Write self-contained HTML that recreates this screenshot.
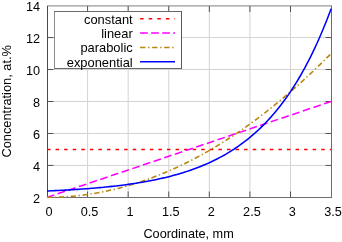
<!DOCTYPE html><html><head><meta charset="utf-8"><title>plot</title><style>html,body{margin:0;padding:0;background:#fff}svg{display:block}text{font-family:"Liberation Sans",sans-serif;font-size:12.7px;fill:#000}</style></head><body>
<svg width="342" height="242" viewBox="0 0 342 242">
<rect width="342" height="242" fill="#fff"/>
<path d="M87.59 6.0 V197.5 M128.17 6.0 V197.5 M168.76 6.0 V197.5 M209.34 6.0 V197.5 M249.93 6.0 V197.5 M290.51 6.0 V197.5 M47.5 165.43 H331.5 M47.5 133.47 H331.5 M47.5 101.50 H331.5 M47.5 69.53 H331.5 M47.5 37.57 H331.5" stroke="#d3d3d3" stroke-width="1" fill="none"/>
<path d="M87.59 197.5 v-6 M87.59 6.0 v6 M128.17 197.5 v-6 M128.17 6.0 v6 M168.76 197.5 v-6 M168.76 6.0 v6 M209.34 197.5 v-6 M209.34 6.0 v6 M249.93 197.5 v-6 M249.93 6.0 v6 M290.51 197.5 v-6 M290.51 6.0 v6 M47.5 165.43 h6 M331.5 165.43 h-6 M47.5 133.47 h6 M331.5 133.47 h-6 M47.5 101.50 h6 M331.5 101.50 h-6 M47.5 69.53 h6 M331.5 69.53 h-6 M47.5 37.57 h6 M331.5 37.57 h-6" stroke="#000" stroke-opacity="0.62" stroke-width="1" fill="none"/>
<path d="M47.5 6.0 V197.5" stroke="#4a4a4a" fill="none"/>
<path d="M47.0 197.5 H332.0 M331.5 197.5 V6.0" stroke="#6c6c6c" fill="none"/>
<path d="M47.0 5.9 H332.0" stroke="#606060" stroke-width="0.8" fill="none"/>
<clipPath id="c"><rect x="47" y="5.3" width="285" height="192.7"/></clipPath>
<g fill="none" stroke-width="1.55" clip-path="url(#c)">
<polyline points="47.00,149.45 189.05,149.45 331.10,149.45" stroke="#ff0000" stroke-width="1.5" stroke-dasharray="3.5 5.07"/>
<polyline points="47.00,197.40 189.05,149.45 331.10,101.50" stroke="#ff00ff" stroke-dasharray="7.7 3.55"/>
<polyline points="47.00,197.40 49.03,197.39 51.06,197.37 53.09,197.33 55.12,197.28 57.15,197.22 59.18,197.14 61.20,197.04 63.23,196.93 65.26,196.81 67.29,196.67 69.32,196.51 71.35,196.34 73.38,196.16 75.41,195.96 77.44,195.75 79.47,195.52 81.50,195.28 83.53,195.02 85.56,194.75 87.59,194.46 89.62,194.16 91.64,193.85 93.67,193.52 95.70,193.17 97.73,192.81 99.76,192.44 101.79,192.05 103.82,191.65 105.85,191.23 107.88,190.79 109.91,190.35 111.94,189.88 113.97,189.41 116.00,188.92 118.03,188.41 120.05,187.89 122.08,187.35 124.11,186.80 126.14,186.24 128.17,185.66 130.20,185.06 132.23,184.45 134.26,183.83 136.29,183.19 138.32,182.54 140.35,181.87 142.38,181.19 144.41,180.49 146.44,179.78 148.46,179.05 150.49,178.31 152.52,177.55 154.55,176.78 156.58,176.00 158.61,175.20 160.64,174.38 162.67,173.55 164.70,172.71 166.73,171.85 168.76,170.98 170.79,170.09 172.82,169.19 174.85,168.27 176.87,167.34 178.90,166.39 180.93,165.43 182.96,164.45 184.99,163.46 187.02,162.46 189.05,161.44 191.08,160.40 193.11,159.35 195.14,158.29 197.17,157.21 199.20,156.12 201.23,155.01 203.26,153.89 205.28,152.75 207.31,151.60 209.34,150.43 211.37,149.25 213.40,148.05 215.43,146.84 217.46,145.61 219.49,144.37 221.52,143.12 223.55,141.85 225.58,140.56 227.61,139.27 229.64,137.95 231.66,136.62 233.69,135.28 235.72,133.92 237.75,132.55 239.78,131.16 241.81,129.76 243.84,128.34 245.87,126.91 247.90,125.47 249.93,124.01 251.96,122.53 253.99,121.04 256.02,119.54 258.05,118.02 260.08,116.48 262.10,114.94 264.13,113.37 266.16,111.79 268.19,110.20 270.22,108.59 272.25,106.97 274.28,105.34 276.31,103.68 278.34,102.02 280.37,100.34 282.40,98.64 284.43,96.93 286.46,95.21 288.49,93.47 290.51,91.71 292.54,89.95 294.57,88.16 296.60,86.36 298.63,84.55 300.66,82.72 302.69,80.88 304.72,79.02 306.75,77.15 308.78,75.27 310.81,73.37 312.84,71.45 314.87,69.52 316.90,67.58 318.92,65.62 320.95,63.64 322.98,61.65 325.01,59.65 327.04,57.63 329.07,55.60 331.10,53.55" stroke="#b8860b" stroke-dasharray="5.27 2.64 1.32 2.64"/>
<polyline points="47.00,191.01 49.03,190.92 51.06,190.83 53.09,190.74 55.12,190.64 57.15,190.54 59.18,190.44 61.20,190.33 63.23,190.23 65.26,190.12 67.29,190.00 69.32,189.88 71.35,189.76 73.38,189.64 75.41,189.51 77.44,189.37 79.47,189.24 81.50,189.10 83.53,188.95 85.56,188.80 87.59,188.65 89.62,188.49 91.64,188.32 93.67,188.16 95.70,187.98 97.73,187.80 99.76,187.62 101.79,187.43 103.82,187.23 105.85,187.03 107.88,186.83 109.91,186.61 111.94,186.39 113.97,186.17 116.00,185.93 118.03,185.69 120.05,185.44 122.08,185.19 124.11,184.93 126.14,184.66 128.17,184.38 130.20,184.09 132.23,183.79 134.26,183.49 136.29,183.18 138.32,182.85 140.35,182.52 142.38,182.18 144.41,181.82 146.44,181.46 148.46,181.08 150.49,180.70 152.52,180.30 154.55,179.89 156.58,179.47 158.61,179.03 160.64,178.58 162.67,178.12 164.70,177.65 166.73,177.16 168.76,176.65 170.79,176.13 172.82,175.60 174.85,175.05 176.87,174.48 178.90,173.89 180.93,173.29 182.96,172.67 184.99,172.03 187.02,171.37 189.05,170.69 191.08,169.99 193.11,169.27 195.14,168.53 197.17,167.77 199.20,166.98 201.23,166.17 203.26,165.33 205.28,164.47 207.31,163.59 209.34,162.67 211.37,161.73 213.40,160.76 215.43,159.77 217.46,158.74 219.49,157.68 221.52,156.59 223.55,155.46 225.58,154.31 227.61,153.12 229.64,151.89 231.66,150.62 233.69,149.32 235.72,147.98 237.75,146.59 239.78,145.17 241.81,143.70 243.84,142.19 245.87,140.63 247.90,139.03 249.93,137.38 251.96,135.68 253.99,133.93 256.02,132.12 258.05,130.26 260.08,128.34 262.10,126.37 264.13,124.34 266.16,122.24 268.19,120.09 270.22,117.86 272.25,115.58 274.28,113.22 276.31,110.79 278.34,108.29 280.37,105.71 282.40,103.06 284.43,100.32 286.46,97.50 288.49,94.60 290.51,91.61 292.54,88.53 294.57,85.36 296.60,82.10 298.63,78.73 300.66,75.26 302.69,71.69 304.72,68.02 306.75,64.23 308.78,60.32 310.81,56.30 312.84,52.16 314.87,47.89 316.90,43.50 318.92,38.97 320.95,34.31 322.98,29.51 325.01,24.56 327.04,19.46 329.07,14.21 331.10,8.80" stroke="#0000ff"/>
</g>
<rect x="54.5" y="11.5" width="127" height="57" fill="#fff"/>
<path d="M54.5 11 V69" stroke="#8a8a8a" fill="none"/><path d="M54 11.5 H182 M54 68.5 H182" stroke="#6a6a6a" fill="none"/><path d="M181.5 11 V69" stroke="#5a5a5a" fill="none"/>
<text x="132.7" y="23.7" text-anchor="end" style="font-size:12.9px">constant</text>
<path d="M140.1 18.7 H175" stroke="#ff0000" stroke-width="1.55" fill="none" stroke-dasharray="3.5 5.1"/>
<text x="132.7" y="38.0" text-anchor="end" style="font-size:12.9px">linear</text>
<path d="M140.1 33.0 H175" stroke="#ff00ff" stroke-width="1.55" fill="none" stroke-dasharray="7.7 3.35"/>
<text x="132.7" y="52.4" text-anchor="end" style="font-size:12.9px">parabolic</text>
<path d="M140.1 47.4 H175" stroke="#b8860b" stroke-width="1.55" fill="none" stroke-dasharray="5.33 2.7 1.33 2.7"/>
<text x="132.7" y="66.7" text-anchor="end" style="font-size:12.9px">exponential</text>
<path d="M140.1 61.7 H175" stroke="#0000ff" stroke-width="1.55" fill="none"/>
<text x="49.0" y="216.4" text-anchor="middle">0</text>
<text x="89.6" y="216.4" text-anchor="middle">0.5</text>
<text x="130.1" y="216.4" text-anchor="middle">1</text>
<text x="170.7" y="216.4" text-anchor="middle">1.5</text>
<text x="211.3" y="216.4" text-anchor="middle">2</text>
<text x="251.9" y="216.4" text-anchor="middle">2.5</text>
<text x="292.4" y="216.4" text-anchor="middle">3</text>
<text x="333.0" y="216.4" text-anchor="middle">3.5</text>
<text x="40" y="202.6" text-anchor="end">2</text>
<text x="40" y="170.7" text-anchor="end">4</text>
<text x="40" y="138.7" text-anchor="end">6</text>
<text x="40" y="106.8" text-anchor="end">8</text>
<text x="40" y="74.8" text-anchor="end">10</text>
<text x="40" y="42.9" text-anchor="end">12</text>
<text x="40" y="10.9" text-anchor="end">14</text>
<text x="188.6" y="237.8" text-anchor="middle">Coordinate, mm</text>
<text transform="translate(11.2 101.3) rotate(-90)" text-anchor="middle" style="font-size:12.8px">Concentration, at.%</text>
</svg></body></html>
